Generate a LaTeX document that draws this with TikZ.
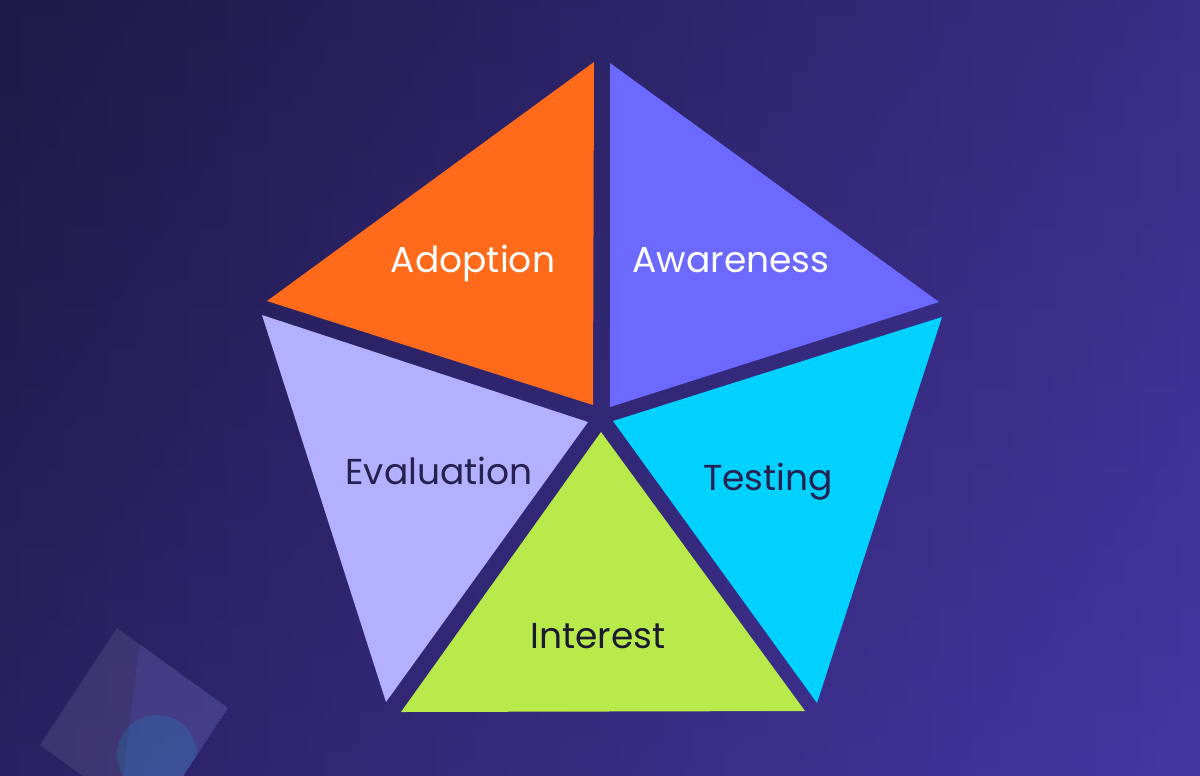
\documentclass[tikz,border=0pt]{standalone}
\usepackage{fontspec}
\setmainfont{Poppins}
\usepackage{xcolor}
\definecolor{bgdark}{HTML}{1E1946}
\definecolor{bglight}{HTML}{4536A2}
\definecolor{adoptcol}{HTML}{FF6B1A}
\definecolor{awarecol}{HTML}{6B69FF}
\definecolor{evalcol}{HTML}{B3B0FF}
\definecolor{testcol}{HTML}{00D1FF}
\definecolor{intcol}{HTML}{B9EA4C}
\definecolor{inkdark}{HTML}{26214E}
\definecolor{inkblack}{HTML}{1B1A30}
\begin{document}
\begin{tikzpicture}[x=0.02cm,y=-0.02cm,
    piece/.style={draw=none},
    lbl/.style={font=\fontsize{20.5}{25}\selectfont, inner sep=0pt, anchor=base}]
    \useasboundingbox (0,0) rectangle (1200,775);
    % background
    \shade[shading angle=-30,left color=bgdark,right color=bglight] (0,0) rectangle (1200,775);
    \shade[top color=bgdark,bottom color=bglight,opacity=0.3] (0,0) rectangle (1200,775);

    % faint square bottom left
    \begin{scope}
      \clip (117,628) -- (228,708) -- (151,825) -- (40,745) -- cycle;
      \fill[color=white,opacity=0.09] (117,628) -- (228,708) -- (151,825) -- (40,745) -- cycle;
      \fill[color=awarecol,opacity=0.12] (140,640) -- (228,708) -- (151,825) -- (120,800) -- cycle;
      \fill[color=testcol,opacity=0.13] (157,755) circle (40);
    \end{scope}

    % pentagon pieces
    \fill[piece,adoptcol] (594,62) -- (267,301) -- (593,405) -- cycle;
    \fill[piece,awarecol] (610,63) -- (939,302) -- (610,407) -- cycle;
    \fill[piece,evalcol] (262,315) -- (588,422) -- (386,702) -- cycle;
    \fill[piece,testcol] (942,317) -- (613,421) -- (817,703) -- cycle;
    \fill[piece,intcol] (601,432) -- (401,712) -- (805,711) -- cycle;

    % labels
    \node[lbl,white] (adoption) at (473,272) {Adoption};
    \node[lbl,white] (awareness) at (731,272) {Awareness};
    \node[lbl,inkdark] (evaluation) at (439,484) {Evaluation};
    \node[lbl,inkdark] (testing) at (768,490) {Testing};
    \node[lbl,inkblack] (interest) at (598,648) {Interest};
  \end{tikzpicture}
\end{document}
